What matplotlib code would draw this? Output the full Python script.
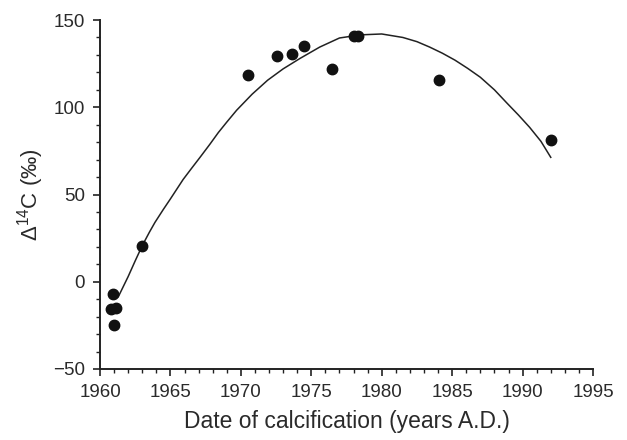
import numpy as np
import matplotlib.pyplot as plt
from matplotlib.ticker import MultipleLocator

plt.rcParams['font.family'] = ['Liberation Sans', 'DejaVu Sans']
plt.rcParams['mathtext.fontset'] = 'custom'
plt.rcParams['mathtext.rm'] = 'Liberation Sans'
plt.rcParams['mathtext.it'] = 'Liberation Sans'

# measured coral samples
year = [1960.8, 1960.9, 1961.1, 1961.0, 1963.0, 1970.5, 1972.6, 1973.6,
        1974.5, 1976.5, 1978.0, 1978.3, 1984.1, 1992.0]
d14c = [-15.5, -6.9, -15.0, -24.7, 20.7, 118.4, 129.3, 130.5,
        135.0, 121.8, 141.0, 141.0, 115.5, 81.0]

# fitted curve
fit_year = [1961.3, 1962.0, 1962.5, 1963.0, 1963.5, 1963.9, 1964.5, 1965.0,
            1965.9, 1966.5, 1967.1, 1967.8, 1968.4, 1969.0, 1969.7, 1970.8,
            1971.9, 1973.0, 1974.2, 1975.6, 1977.0, 1978.5, 1980.0, 1981.5,
            1982.5, 1983.4, 1984.3, 1985.2, 1986.1, 1987.0, 1988.0, 1988.9,
            1989.7, 1990.5, 1991.3, 1992.0]
fit_d14c = [-8.6, 3.0, 12.0, 20.7, 28.3, 34.0, 41.5, 47.5,
            58.6, 65.0, 71.3, 78.8, 85.5, 91.5, 98.3, 107.5,
            115.5, 122.0, 128.0, 134.5, 139.7, 141.5, 142.0, 140.0,
            137.6, 134.5, 131.0, 127.0, 122.3, 117.2, 110.0, 102.3,
            95.6, 88.5, 80.5, 71.3]

fig = plt.figure(figsize=(6.27, 4.40), dpi=100)
ax = fig.add_axes([0.1595, 0.1614, 0.7863, 0.7931])

ax.plot(fit_year, fit_d14c, color='#222222', lw=1.1)
ax.plot(year, d14c, 'o', color='#111111', ms=7.5, mec='#111111')

ax.set_xlim(1960, 1995)
ax.set_ylim(-50, 150)
ax.xaxis.set_major_locator(MultipleLocator(5))
ax.xaxis.set_minor_locator(MultipleLocator(1))
ax.yaxis.set_major_locator(MultipleLocator(50))
ax.yaxis.set_minor_locator(MultipleLocator(10))

for s in ['top', 'right']:
    ax.spines[s].set_visible(False)
for s in ['left', 'bottom']:
    ax.spines[s].set_linewidth(1.4)
    ax.spines[s].set_color('#222222')

ax.tick_params(which='major', direction='out', length=5, width=1.2,
               color='#222222', labelsize=13.5, labelcolor='#2a2a2a', pad=6)
ax.tick_params(which='minor', direction='out', length=3, width=1.0, color='#222222')

ax.set_xlabel('Date of calcification (years A.D.)', fontsize=16.5,
              color='#2a2a2a', labelpad=6)
ax.set_ylabel('Δ$^{14}$C (‰)', fontsize=16, color='#2a2a2a', labelpad=5)

fig.savefig('out.png', dpi=100)
